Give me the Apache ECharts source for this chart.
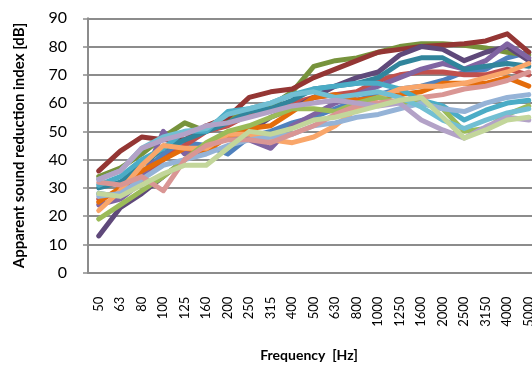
<!DOCTYPE html>
<html><head><meta charset="utf-8">
<script src="https://cdn.jsdelivr.net/npm/echarts@6/dist/echarts.min.js"></script>
<style>html,body{margin:0;padding:0;background:#fff;overflow:hidden}#c{width:532px;height:365px}</style>
</head><body><div id="c"></div>
<script>
const categories = ['50','63','80','100','125','160','200','250','315','400','500','630','800','1000','1250','1600','2000','2500','3150','4000','5000'];
const yTicks = [0,10,20,30,40,50,60,70,80,90];
const xTitle = 'Frequency  [Hz]';
const yTitle = 'Apparent sound reduction index [dB]';

const blue       = [28,27,35,42,46,45,42,48,50,53,55,58,61,63,65,66,68,71,72,76,78];
const red        = [26,29,33,40,45,50,52,56,59,60,62,63,64,68,70,71,71,70,70,72,70];
const olive      = [34,37,42,48,53,50,54,57,59,64,73,75,76,78,80,81,81,80.5,79.5,78,77];
const darkRed    = [36,43,48,47,47,52,55,62,64,65,69,72,75,78,79,80,80.5,81,82,84.5,78];
const darkPurple = [13,23,28,34,40,44,48,50,55,58,62,66,69,71,77,80,79,75,78,80,75];
const purple     = [24,26,32,50,42,45,49,47,44,52,56,60,63,66,69,72,74,72,75,81,76];
const teal       = [30,32,38,44,47,50,53,57,58,61,65,66,67,69,74,76,76,72,73,74,73];
const orange     = [25,30,36,40,44,43,48,51,52,57,62,63,61,62,63,64,67,67,67,69,66];
const aqua       = [31,34,40,44,50,50,57,58,60,63,65,66,67,67,65,61,59,54,57.5,60,61];
const lightOrange= [22,29,38,45,44,44,49,49,47,46,48,52,58,62,65,66,66,67,69,71,74];
const green      = [19,24,29,34,40,46,50,52,55,58,58,57,60,62,60,60,58,50,51,56,59];
const lightBlue  = [27,28,33,38,40,42,45,47,48,49,52,53,55,56,58,60,58,57,60,62,63];
const pink       = [32,31,34,29,40,45,47,47,46,49,52,56,59,60,61,62,63,65,66,68,71];
const lightAqua  = [33,36,44,48,50,51,56,58,60,63,64,62,63,64,62,58.6,54,51,54,56.5,58];
const lavender   = [33,36,44,47,49,52,53,55,57,59,60,61,60,59,60,54,50.5,47.6,51.6,55,54];
const lightGreen = [28,27,31,35,38,38,44,50,49,51,54,55,57,59,61,62,55,47.6,50.5,54,55];

const seriesList = [
  ['Series 1', blue, '#4F81BD'],
  ['Series 2', red, '#C0504D'],
  ['Series 3', olive, '#77933C'],
  ['Series 4', darkRed, '#943634'],
  ['Series 5', darkPurple, '#5F497A'],
  ['Series 6', purple, '#8064A2'],
  ['Series 7', teal, '#31859C'],
  ['Series 8', orange, '#E46C0A'],
  ['Series 9', aqua, '#4BACC6'],
  ['Series 10', lightOrange, '#F9A66A'],
  ['Series 11', green, '#9BBB59'],
  ['Series 12', lightBlue, '#95B3D7'],
  ['Series 13', pink, '#D99694'],
  ['Series 14', lightAqua, '#72BFD3'],
  ['Series 15', lavender, '#B3A2C7'],
  ['Series 16', lightGreen, '#C3D69B']
];

const chart = echarts.init(document.getElementById('c'), null, { width: 532, height: 365 });
chart.setOption({
  animation: false,
  backgroundColor: '#fff',
  graphic: [{
    type: 'text', x: 309, y: 355, silent: true,
    style: { text: xTitle, align: 'center', verticalAlign: 'middle',
      fontFamily: 'Lato', fontWeight: 'bold', fontSize: 14, fill: '#000' }
  }],
  grid: { left: 88, top: 18.3, width: 451.5, height: 254.4, containLabel: false, outerBoundsMode: 'none' },
  xAxis: {
    type: 'category',
    data: categories,
    boundaryGap: true,
    axisLine: { show: true, lineStyle: { color: '#8c8c8c', width: 2 } },
    axisTick: { show: false },
    axisLabel: { rotate: 90, margin: 24, fontFamily: 'Lato', fontSize: 13, color: '#000', interval: 0, hideOverlap: false }
  },
  yAxis: {
    type: 'value',
    min: 0, max: 90, interval: 10,
    axisLine: { show: true, lineStyle: { color: '#8c8c8c', width: 2 } },
    axisTick: { show: true, length: 5, lineStyle: { color: '#8c8c8c', width: 1.5 } },
    splitLine: { show: true, lineStyle: { color: '#8c8c8c', width: 2 } },
    axisLabel: { margin: 21, fontFamily: 'Lato', fontSize: 16, color: '#000',
      formatter: v => yTicks.includes(v) ? String(v) : '' },
    name: yTitle,
    nameLocation: 'middle',
    nameGap: 61,
    nameTextStyle: { fontFamily: 'Lato', fontWeight: 'bold', fontSize: 15, color: '#000' }
  },
  series: seriesList.map(([name, data, color]) => ({
    name, type: 'line', data, symbol: 'none', smooth: false,
    lineStyle: { color, width: 5, cap: 'round', join: 'round' },
    itemStyle: { color }
  }))
});
</script></body></html>
